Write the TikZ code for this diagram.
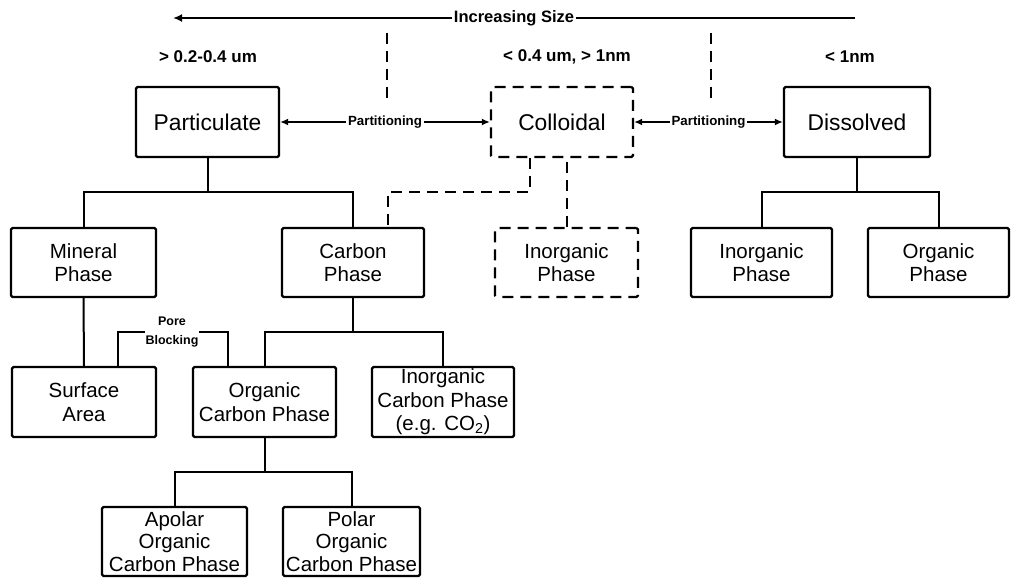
\documentclass[tikz,border=0pt]{standalone}
\usepackage{fontspec}
\setmainfont{Liberation Sans}
\usetikzlibrary{arrows.meta}

\tikzset{
  box/.style={draw, line width=2.2pt, rounded corners=1.5pt, inner sep=0pt,
    align=center, font=\fontsize{20.5}{23.5}\selectfont},
  bigbox/.style={box, font=\fontsize{22.8}{26}\selectfont},
  dashbox/.style={dash pattern=on 11pt off 7pt},
  link/.style={line width=2pt},
  dlink/.style={link, dash pattern=on 11pt off 7pt},
  tip/.style={arrows={-Latex[length=9pt,width=8pt]}},
  twotip/.style={arrows={Latex[length=8pt,width=7pt]-Latex[length=8pt,width=7pt]}},
  small/.style={fill=white, inner sep=2pt, font=\bfseries\fontsize{13.3}{16}\selectfont},
  sizelbl/.style={inner sep=0pt, font=\bfseries\fontsize{17}{20}\selectfont},
}

\begin{document}
\begin{tikzpicture}[x=1pt, y=-1pt]
\useasboundingbox (0,0) rectangle (1013,578);

% size scale along the top
\coordinate (sR) at (855,18);
\coordinate (sL) at (173,18);
\draw[link, tip] (sR) -- node[small, font=\bfseries\fontsize{16.5}{19}\selectfont]{Increasing Size} (sL);

\coordinate (d1t) at (387,33);
\coordinate (d1b) at (387,103);
\coordinate (d2t) at (711,33);
\coordinate (d2b) at (711,103);
\draw[dlink] (d1t) -- (d1b);
\draw[dlink] (d2t) -- (d2b);

\node[sizelbl] (szA) at (208,57) {> 0.2-0.4 um};
\node[sizelbl] (szB) at (567,57) {< 0.4 um, > 1nm};
\node[sizelbl] (szC) at (850,57) {< 1nm};

% top level
\node[bigbox, minimum width=143pt, minimum height=70pt] (part) at (207.5,122) {Particulate};
\node[bigbox, dashbox, minimum width=142pt, minimum height=70pt] (coll) at (562,122) {Colloidal};
\node[bigbox, minimum width=146pt, minimum height=70pt] (diss) at (857,122) {Dissolved};

\draw[link, twotip] (part.east) -- node[small]{Partitioning} (coll.west);
\draw[link, twotip] (coll.east) -- node[small]{Partitioning} (diss.west);

% second level
\node[box, minimum width=145pt, minimum height=69pt] (mineral) at (83.5,262.5) {Mineral\\Phase};
\node[box, minimum width=142pt, minimum height=69pt] (carbon) at (353,262.5) {Carbon\\Phase};
\node[box, dashbox, minimum width=143pt, minimum height=69pt] (inorgc) at (566.5,262.5) {Inorganic\\Phase};
\node[box, minimum width=141pt, minimum height=69pt] (inorgd) at (761.5,262.5) {Inorganic\\Phase};
\node[box, minimum width=141pt, minimum height=69pt] (orgd) at (938.5,262.5) {Organic\\Phase};

\coordinate (jP) at (207.5,192);
\draw[link] (part.south) -- (jP);
\draw[link] (mineral.north) |- (jP) -| (carbon.north);

\coordinate (jD) at (857,192);
\draw[link] (diss.south) -- (jD);
\draw[link] (inorgd.north) |- (jD) -| (orgd.north);

\coordinate (cA) at (530,192);
\coordinate (cB) at (388,192);
\draw[dlink] ([xshift=-32pt]coll.south) -- (cA) -- (cB) -- ([xshift=35pt]carbon.north);
\draw[dlink] (inorgc.north) -- (inorgc.north |- coll.south);

% third level
\node[box, minimum width=144pt, minimum height=70pt] (surface) at (84,402) {Surface\\Area};
\node[box, minimum width=143pt, minimum height=70pt] (orgcarbon) at (264.5,402) {Organic\\Carbon Phase};
\node[box, minimum width=142pt, minimum height=70pt] (inorgcarbon) at (443,402)
  {Inorganic\\Carbon Phase\\(e.g. CO\textsubscript{2})};

\draw[link] (mineral.south) -- (surface.north);

\coordinate (jC) at (353,332);
\draw[link] (carbon.south) -- (jC);
\draw[link] (orgcarbon.north) |- (jC) -| (inorgcarbon.north);

\coordinate (pb) at (172,332);
\draw[link] ([xshift=34pt]surface.north) |- (pb) -| ([xshift=-36.5pt]orgcarbon.north);
\node[small, font=\bfseries\fontsize{12.5}{19}\selectfont, align=center, inner sep=1pt] (pbl) at (pb) {Pore\\Blocking};

% fourth level
\node[box, minimum width=145pt, minimum height=69pt, font=\fontsize{20.5}{22.5}\selectfont] (apolar) at (174.5,541.5) {Apolar\\Organic\\Carbon Phase};
\node[box, minimum width=137pt, minimum height=69pt, font=\fontsize{20.5}{22.5}\selectfont] (polar) at (351.5,541.5) {Polar\\Organic\\Carbon Phase};

\coordinate (jO) at (264.5,472);
\draw[link] (orgcarbon.south) -- (jO);
\draw[link] (apolar.north) |- (jO) -| (polar.north);

\end{tikzpicture}
\end{document}
